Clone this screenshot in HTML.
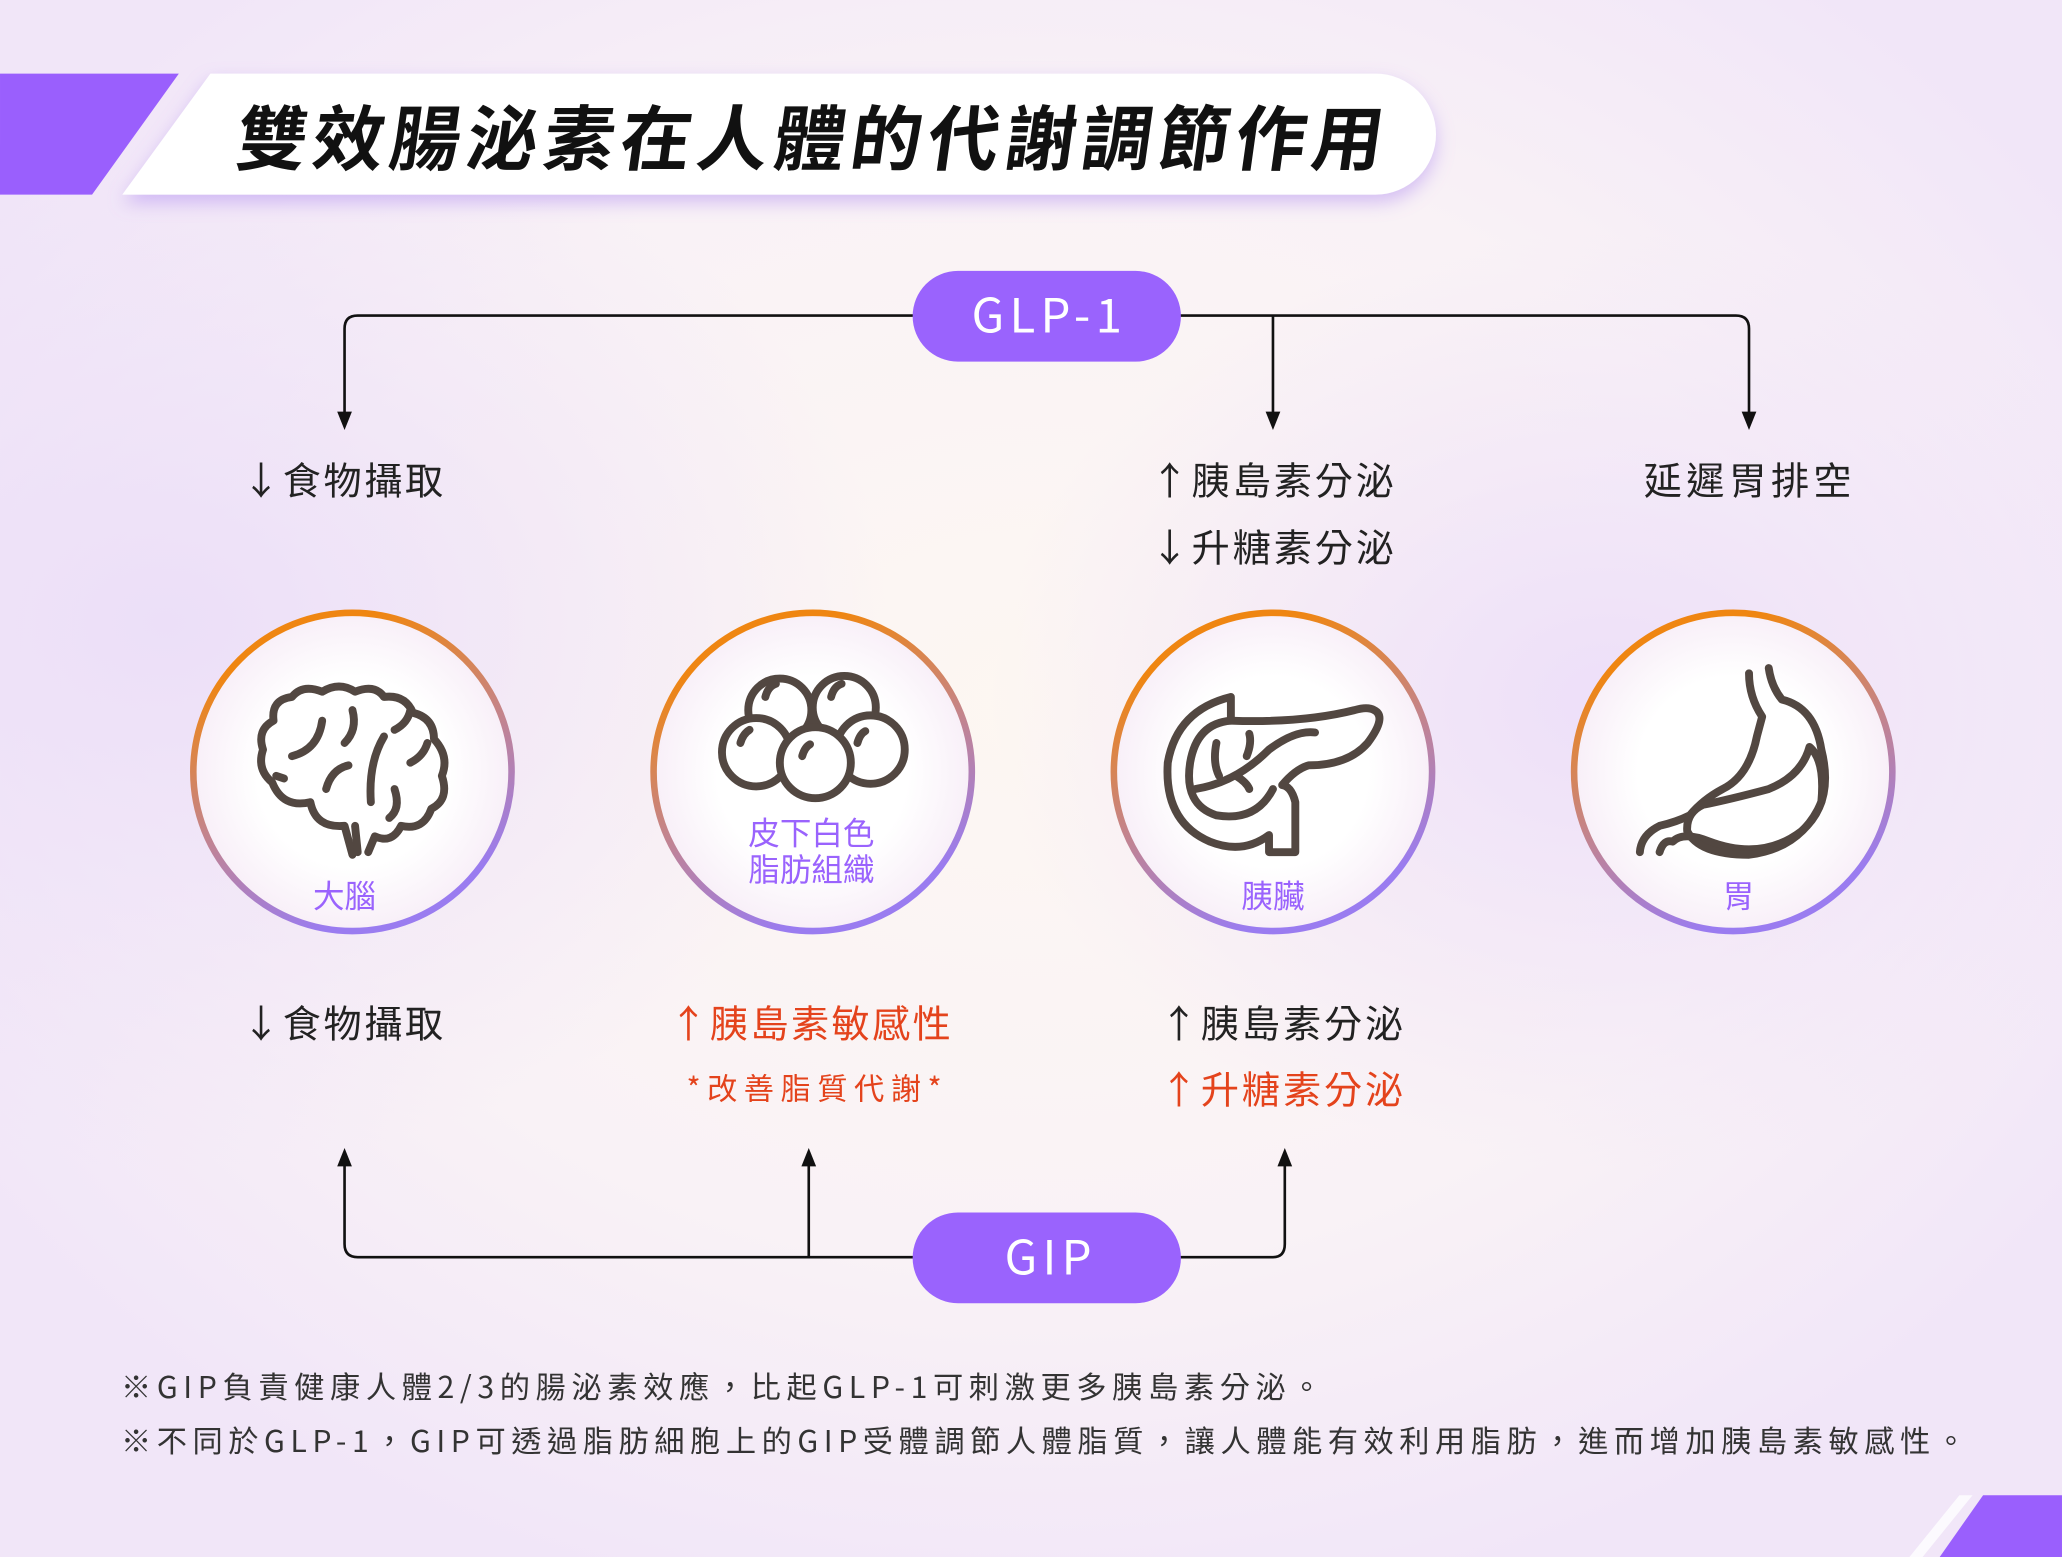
<!DOCTYPE html>
<html><head><meta charset="utf-8"><style>
html,body{margin:0;padding:0;}
body{width:2062px;height:1557px;overflow:hidden;background:#f4eefa;}
svg{display:block;}
text{font-family:"Noto Sans CJK TC","Liberation Sans",sans-serif;}
</style></head><body>
<svg width="2062" height="1557" viewBox="0 0 1568 1184" xmlns="http://www.w3.org/2000/svg">
<defs>
<radialGradient id="bg1" cx="0.5" cy="0.45" r="0.6">
<stop offset="0" stop-color="#fdf7f2"/><stop offset="0.6" stop-color="#f9f2f6"/><stop offset="1" stop-color="#f1e6f8"/>
</radialGradient>
<radialGradient id="bgL" cx="0.08" cy="0.4" r="0.35">
<stop offset="0" stop-color="#ecdff8"/><stop offset="1" stop-color="#ecdff8" stop-opacity="0"/>
</radialGradient>
<radialGradient id="bgR" cx="0.78" cy="0.45" r="0.3">
<stop offset="0" stop-color="#eddff9"/><stop offset="1" stop-color="#eddff9" stop-opacity="0"/>
</radialGradient>
<linearGradient id="ring" x1="0.3" y1="0" x2="0.7" y2="1">
<stop offset="0.1" stop-color="#ef8612"/><stop offset="0.5" stop-color="#c4848a"/><stop offset="0.9" stop-color="#9a7cf0"/>
</linearGradient>
<radialGradient id="inner" cx="0.5" cy="0.5" r="0.5">
<stop offset="0.6" stop-color="#ffffff"/><stop offset="1" stop-color="#f8eff8"/>
</radialGradient>
<filter id="sh" x="-10%" y="-30%" width="120%" height="170%"><feDropShadow dx="0" dy="6" stdDeviation="7" flood-color="#a57af0" flood-opacity="0.45"/></filter>
<marker id="ar" viewBox="0 0 10 10" refX="5" refY="5" markerWidth="14" markerHeight="14" orient="auto" markerUnits="userSpaceOnUse"><path d="M0,1 L10,5 L0,9 z" fill="#111"/></marker>
</defs>
<rect width="1568" height="1184" fill="url(#bg1)"/>
<rect width="1568" height="1184" fill="url(#bgL)"/>
<rect width="1568" height="1184" fill="url(#bgR)"/>

<!-- title -->
<polygon points="0,56 136,56 70,148 0,148" fill="#9a5ffd"/>
<path d="M160,56 H1046 A46,46 0 0 1 1046,148 H93 Z" fill="#fff" filter="url(#sh)"/>
<text x="614" y="125" text-anchor="middle" font-size="54" font-weight="bold" fill="#111" transform="skewX(-8) translate(17,0)" textLength="872" lengthAdjust="spacing">雙效腸泌素在人體的代謝調節作用</text>

<!-- connectors -->
<g fill="none" stroke="#111" stroke-width="2">
<path d="M700,240 H272 Q262,240 262,250 V320" marker-end="url(#ar)"/>
<path d="M890,240 H1320 Q1330,240 1330,250 V320" marker-end="url(#ar)"/>
<path d="M968,240 V320" marker-end="url(#ar)"/>
<path d="M700,956 H272 Q262,956 262,946 V880" marker-end="url(#ar)"/>
<path d="M615,956 V880" marker-end="url(#ar)"/>
<path d="M890,956 H968 Q977,956 977,946 V880" marker-end="url(#ar)"/>
</g>
<rect x="694" y="206" width="204" height="69" rx="34.5" fill="#9a63fd"/>
<text x="798" y="253" text-anchor="middle" font-size="36" fill="#fff" letter-spacing="4">GLP-1</text>
<rect x="694" y="922" width="204" height="69" rx="34.5" fill="#9a63fd"/>
<text x="799" y="969" text-anchor="middle" font-size="36" fill="#fff" letter-spacing="4">GIP</text>

<!-- top labels -->
<g font-size="29" fill="#222">
<text x="184" y="376" textLength="153" lengthAdjust="spacing">↓食物攝取</text>
<text x="875" y="376" textLength="185" lengthAdjust="spacing">↑胰島素分泌</text>
<text x="875" y="427" textLength="185" lengthAdjust="spacing">↓升糖素分泌</text>
<text x="1250" y="376" textLength="158" lengthAdjust="spacing">延遲胃排空</text>
</g>

<!-- circles -->
<g stroke="url(#ring)" stroke-width="5" fill="url(#inner)">
<circle cx="268" cy="587" r="121"/>
<circle cx="618" cy="587" r="121"/>
<circle cx="968" cy="587" r="121"/>
<circle cx="1318" cy="587" r="121"/>
</g>

<!-- icons -->
<g fill="none" stroke="#524741" stroke-width="6" stroke-linecap="round" stroke-linejoin="round">
<path d="M268,650 L262,628 Q240,630 236,610 Q215,615 207,595 Q195,585 200,570 Q195,555 208,548 Q206,532 222,530 Q230,520 245,526 Q258,518 270,526 Q285,520 292,530 Q308,528 314,542 Q330,546 330,562 Q342,575 336,590 Q342,608 328,615 Q322,632 305,628 Q298,642 285,636 L280,648"/>
<path d="M272,648 L270,628"/>
<path d="M222,575 Q242,570 245,548"/>
<path d="M268,540 Q272,555 262,565"/>
<path d="M248,600 Q252,585 265,582"/>
<path d="M292,560 Q280,580 282,610"/>
<path d="M300,555 Q310,550 312,540"/>
<path d="M312,580 Q322,575 325,565"/>
<path d="M210,590 L216,592"/>
<path d="M300,600 Q305,615 296,622"/>
<circle cx="593" cy="540" r="24"/>
<circle cx="642" cy="538" r="24"/>
<circle cx="575" cy="572" r="26" fill="#fff"/>
<circle cx="662" cy="570" r="26" fill="#fff"/>
<circle cx="620" cy="580" r="27" fill="#fff"/>
<path d="M582,530 Q584,522 590,520"/>
<path d="M632,530 Q634,522 640,520"/>
<path d="M563,565 Q565,558 570,555"/>
<path d="M610,575 Q612,568 616,566"/>
<path d="M652,565 Q654,558 658,556"/>
<path d="M936,530 Q895,540 888,580 Q885,625 920,640 Q945,650 965,635 L965,648 L985,648 L985,610 Q982,598 975,597 Q985,585 995,582 Q1025,582 1040,565 Q1055,545 1045,540 Q1040,537 1030,540 Q990,550 936,548 Z"/>
<path d="M936,548 Q910,550 905,580 Q900,612 925,620 Q955,625 968,600"/>
<path d="M909,600 Q940,595 965,570 Q985,555 1000,557"/>
<path d="M925,565 Q922,580 927,590"/>
<path d="M948,575 Q952,565 950,558"/>
<path d="M940,590 Q948,595 950,600"/>
<path d="M1330,512 Q1330,530 1340,545 L1336,560 Q1330,590 1310,600 Q1295,608 1285,620 Q1275,625 1262,628 Q1248,635 1247,648"/>
<path d="M1345,508 Q1347,522 1355,532 Q1380,538 1385,570 Q1395,610 1370,632 Q1340,655 1300,640 Q1280,632 1272,640 Q1265,638 1262,648"/>
<path d="M1376,568 Q1370,590 1345,600 Q1315,608 1295,612 Q1282,618 1283,632 Q1292,650 1330,650 Q1370,645 1385,610 Q1388,578 1376,568 Z"/>
</g>

<!-- circle labels -->
<g font-size="24" fill="#9a63fd" text-anchor="middle">
<text x="262" y="690">大腦</text>
<text x="617" y="642">皮下白色</text>
<text x="617" y="670">脂肪組織</text>
<text x="968" y="690">胰臟</text>
<text x="1322" y="690">胃</text>
</g>

<!-- bottom labels -->
<g font-size="29">
<text x="184" y="789" fill="#222" textLength="153" lengthAdjust="spacing">↓食物攝取</text>
<text x="509" y="789" fill="#e4431c" textLength="214" lengthAdjust="spacing">↑胰島素敏感性</text>
<text x="522" y="836" font-size="23" fill="#e4431c" textLength="194" lengthAdjust="spacing">*改善脂質代謝*</text>
<text x="882" y="789" fill="#222" textLength="185" lengthAdjust="spacing">↑胰島素分泌</text>
<text x="882" y="839" fill="#e4431c" textLength="185" lengthAdjust="spacing">↑升糖素分泌</text>
</g>

<!-- footnotes -->
<g font-size="23" fill="#333">
<text x="92" y="1063" textLength="913" lengthAdjust="spacing">※GIP負責健康人體2/3的腸泌素效應，比起GLP-1可刺激更多胰島素分泌。</text>
<text x="92" y="1104" textLength="1403" lengthAdjust="spacing">※不同於GLP-1，GIP可透過脂肪細胞上的GIP受體調節人體脂質，讓人體能有效利用脂肪，進而增加胰島素敏感性。</text>
</g>

<!-- corner -->
<polygon points="1508,1137 1568,1137 1568,1184 1475,1184" fill="#9a5ffd"/>
<polygon points="1490,1137 1500,1137 1462,1184 1452,1184" fill="#fff" opacity="0.8"/>
</svg>
</body></html>
